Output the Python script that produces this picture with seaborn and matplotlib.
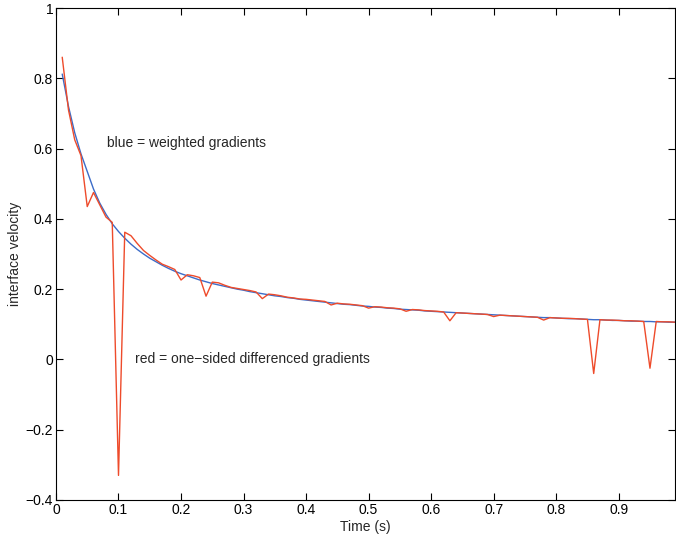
import numpy as np
import pandas as pd
import seaborn as sns
import matplotlib.pyplot as plt

# sample times (s), one value every 0.01 s
time_s = np.round(np.arange(1, 100) * 0.01, 2)

# weighted gradients (blue)
vel_weighted = [
    0.812, 0.720, 0.645, 0.585, 0.535, 0.485, 0.445, 0.413, 0.386, 0.364,
    0.345, 0.328, 0.313, 0.300, 0.288, 0.278, 0.268, 0.259, 0.251, 0.244,
    0.238, 0.232, 0.226, 0.221, 0.216, 0.212, 0.208, 0.204, 0.200, 0.197,
    0.193, 0.190, 0.187, 0.184, 0.181, 0.179, 0.176, 0.174, 0.171, 0.169,
    0.167, 0.165, 0.163, 0.161, 0.159, 0.157, 0.156, 0.154, 0.152, 0.151,
    0.149, 0.148, 0.146, 0.145, 0.143, 0.142, 0.141, 0.140, 0.138, 0.137,
    0.136, 0.135, 0.134, 0.133, 0.132, 0.131, 0.130, 0.129, 0.128, 0.127,
    0.126, 0.125, 0.124, 0.123, 0.122, 0.121, 0.120, 0.119, 0.119, 0.118,
    0.117, 0.116, 0.116, 0.115, 0.114, 0.113, 0.113, 0.112, 0.111, 0.111,
    0.110, 0.109, 0.109, 0.108, 0.108, 0.107, 0.107, 0.106, 0.106,
]

# one-sided differenced gradients (red)
vel_onesided = [
    0.860, 0.710, 0.625, 0.580, 0.435, 0.475, 0.440, 0.405, 0.390, -0.330,
    0.362, 0.352, 0.330, 0.310, 0.296, 0.283, 0.271, 0.264, 0.256, 0.226,
    0.241, 0.238, 0.233, 0.180, 0.220, 0.218, 0.211, 0.205, 0.202, 0.199,
    0.196, 0.192, 0.173, 0.186, 0.184, 0.181, 0.177, 0.175, 0.172, 0.171,
    0.169, 0.167, 0.165, 0.155, 0.160, 0.158, 0.157, 0.155, 0.153, 0.146,
    0.150, 0.149, 0.147, 0.146, 0.144, 0.137, 0.142, 0.141, 0.139, 0.138,
    0.137, 0.135, 0.110, 0.133, 0.132, 0.131, 0.130, 0.129, 0.128, 0.122,
    0.126, 0.125, 0.124, 0.123, 0.122, 0.121, 0.120, 0.112, 0.119, 0.118,
    0.117, 0.117, 0.116, 0.115, 0.114, -0.040, 0.113, 0.112, 0.112, 0.111,
    0.110, 0.110, 0.109, 0.108, -0.025, 0.108, 0.107, 0.107, 0.106,
]

x_ticks = [0, 0.1, 0.2, 0.3, 0.4, 0.5, 0.6, 0.7, 0.8, 0.9]
x_ticklabels = ['0', '0.1', '0.2', '0.3', '0.4', '0.5', '0.6', '0.7', '0.8', '0.9']
y_ticks = [-0.4, -0.2, 0, 0.2, 0.4, 0.6, 0.8, 1]
y_ticklabels = ['\u22120.4', '\u22120.2', '0', '0.2', '0.4', '0.6', '0.8', '1']

df = pd.DataFrame({'time': time_s, 'weighted': vel_weighted, 'onesided': vel_onesided})

########################################################################
# Plotting

sns.set_style('ticks')
plt.rcParams['font.family'] = ['Liberation Sans', 'DejaVu Sans']
plt.rcParams['font.size'] = 10

fig = plt.figure(figsize=(6.76, 5.42), dpi=100)
ax = fig.add_axes([0.0828, 0.0775, 0.9157, 0.9077])

sns.lineplot(data=df, x='time', y='weighted', ax=ax, color='#3C6CC8', linewidth=1.0)
sns.lineplot(data=df, x='time', y='onesided', ax=ax, color='#EE4B2B', linewidth=1.0)

ax.set_xlim(0, 0.99)
ax.set_ylim(-0.4, 1)
ax.set_xticks(x_ticks)
ax.set_xticklabels(x_ticklabels)
ax.set_yticks(y_ticks)
ax.set_yticklabels(y_ticklabels)

# MATLAB-like box with inward ticks on all sides
ax.tick_params(direction='in', top=True, right=True, length=5, width=0.8,
               labelsize=10, colors='black', pad=2)
for side in ['left', 'right', 'top', 'bottom']:
    ax.spines[side].set_visible(True)
    ax.spines[side].set_linewidth(0.8)
    ax.spines[side].set_color('black')

ax.set_xlabel('Time (s)', fontsize=10, labelpad=2)
ax.set_ylabel('interface velocity', fontsize=10, labelpad=3)

ax.text(0.082, 0.615, 'blue = weighted gradients', fontsize=10, va='center', ha='left')
ax.text(0.126, 0.0, 'red = one\u2212sided differenced gradients', fontsize=10, va='center', ha='left')

plt.savefig('out.png', dpi=100)
plt.close(fig)
